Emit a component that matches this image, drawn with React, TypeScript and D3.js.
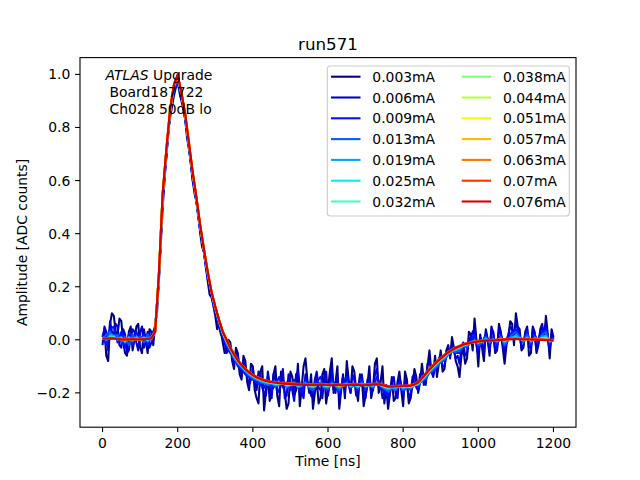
import * as d3 from "d3";

// sample times [ns]: the two noisiest traces are kept every 5 ns, the rest every 10 ns
const time = d3.range(0, 1201, 10);
const timeFine = d3.range(0, 1201, 5);

const currents = ["0.003mA", "0.006mA", "0.009mA", "0.013mA", "0.019mA", "0.025mA", "0.032mA",
  "0.038mA", "0.044mA", "0.051mA", "0.057mA", "0.063mA", "0.07mA", "0.076mA"];

const xTicks = [0, 200, 400, 600, 800, 1000, 1200];
const yTicks = [-0.2, 0, 0.2, 0.4, 0.6, 0.8, 1.0];

const s003 = [0.01, 0.04, -0.06, -0.08, 0.06, 0.1, 0.09, 0.03, 0.02, 0.08, 0.07, -0.01, -0.05, -0.06, 0.03, 0.05, -0.04, 0.0, 0.05, 0.06,
  -0.03, -0.05, 0.04, 0.0, -0.05, 0.04, 0.03, -0.02, 0.06, 0.1, 0.24, 0.36, 0.5, 0.6, 0.7, 0.79, 0.84, 0.88, 0.92, 0.95,
  0.98, 0.93, 0.9, 0.87, 0.83, 0.76, 0.72, 0.67, 0.6, 0.55, 0.52, 0.47, 0.4, 0.35, 0.33, 0.28, 0.22, 0.17, 0.16, 0.13,
  0.09, 0.04, 0.06, 0.03, -0.01, -0.05, -0.04, 0.0, -0.01, -0.08, -0.11, -0.03, -0.05, -0.13, -0.15, -0.06, -0.08, -0.16, -0.19, -0.09,
  -0.1, -0.19, -0.22, -0.24, -0.12, -0.1, -0.266, -0.19, -0.14, -0.23, -0.2, -0.13, -0.1, -0.21, -0.25, -0.12, -0.15, -0.2, -0.26, -0.24,
  -0.12, -0.14, -0.21, -0.19, -0.09, -0.25, -0.18, -0.1, -0.07, -0.15, -0.2, -0.13, -0.26, -0.2, -0.15, -0.24, -0.22, -0.13, -0.11, -0.24,
  -0.19, -0.12, -0.07, -0.2, -0.16, -0.1, -0.26, -0.19, -0.13, -0.22, -0.08, -0.15, -0.2, -0.1, -0.12, -0.19, -0.23, -0.13, -0.14, -0.25,
  -0.21, -0.17, -0.1, -0.22, -0.18, -0.09, -0.07, -0.2, -0.16, -0.1, -0.24, -0.18, -0.26, -0.2, -0.14, -0.23, -0.22, -0.16, -0.12, -0.19,
  -0.25, -0.12, -0.15, -0.24, -0.22, -0.17, -0.11, -0.14, -0.2, -0.16, -0.09, -0.15, -0.17, -0.1, -0.04, -0.12, -0.13, -0.06, -0.14, -0.09,
  -0.04, -0.12, -0.11, -0.04, -0.02, -0.07, 0.01, -0.03, -0.08, -0.1, -0.14, -0.06, -0.03, -0.09, -0.07, 0.03, 0.02, -0.04, 0.08, 0.0,
  -0.1, 0.02, -0.03, -0.08, 0.04, 0.0, -0.06, 0.05, 0.02, -0.05, -0.04, 0.06, 0.03, -0.03, -0.09, -0.02, 0.01, 0.07, 0.06, -0.02,
  0.1, 0.05, 0.04, -0.04, -0.03, 0.03, 0.05, -0.06, -0.05, 0.05, 0.03, -0.05, -0.02, 0.04, 0.06, 0.0, 0.09, 0.02, -0.07, 0.04,
  0.01];
const s006 = [-0.02, 0.05, 0.03, -0.04, 0.07, 0.03, 0.02, 0.06, 0.05, -0.02, -0.03, 0.04, 0.02, -0.05, -0.04, 0.01, 0.04, 0.03, -0.01, -0.04,
  0.03, 0.05, -0.03, -0.01, 0.03, -0.03, -0.01, 0.03, 0.05, 0.13, 0.22, 0.38, 0.53, 0.62, 0.69, 0.78, 0.85, 0.9, 0.93, 0.96,
  0.96, 0.95, 0.93, 0.88, 0.83, 0.78, 0.73, 0.66, 0.6, 0.57, 0.52, 0.46, 0.41, 0.37, 0.33, 0.27, 0.23, 0.21, 0.17, 0.13,
  0.1, 0.08, 0.05, 0.02, 0.01, -0.01, -0.05, -0.04, -0.02, -0.06, -0.09, -0.05, -0.06, -0.11, -0.13, -0.08, -0.1, -0.14, -0.17, -0.15,
  -0.11, -0.16, -0.19, -0.12, -0.13, -0.18, -0.2, -0.21, -0.12, -0.17, -0.22, -0.13, -0.15, -0.2, -0.19, -0.16, -0.11, -0.22, -0.21, -0.13,
  -0.16, -0.19, -0.23, -0.13, -0.12, -0.17, -0.2, -0.22, -0.13, -0.16, -0.18, -0.21, -0.22, -0.15, -0.12, -0.18, -0.19, -0.22, -0.14, -0.12,
  -0.21, -0.16, -0.11, -0.19, -0.2, -0.14, -0.22, -0.18, -0.14, -0.2, -0.12, -0.17, -0.2, -0.13, -0.15, -0.21, -0.19, -0.14, -0.13, -0.19,
  -0.22, -0.15, -0.14, -0.2, -0.19, -0.13, -0.11, -0.18, -0.17, -0.22, -0.21, -0.17, -0.23, -0.2, -0.16, -0.14, -0.2, -0.22, -0.14, -0.17,
  -0.21, -0.15, -0.17, -0.22, -0.2, -0.14, -0.13, -0.18, -0.19, -0.13, -0.12, -0.17, -0.16, -0.09, -0.08, -0.12, -0.14, -0.1, -0.11, -0.07,
  -0.06, -0.1, -0.1, -0.05, -0.03, -0.06, -0.02, -0.04, -0.07, -0.06, -0.09, -0.03, -0.01, -0.06, -0.05, 0.0, 0.01, 0.03, 0.04, -0.02,
  -0.06, 0.01, -0.01, -0.05, 0.03, 0.0, -0.04, 0.04, 0.03, -0.04, -0.03, 0.04, 0.02, -0.02, -0.05, 0.0, 0.02, 0.05, 0.04, 0.01,
  0.07, 0.04, 0.02, -0.03, -0.02, 0.02, 0.04, -0.03, -0.03, 0.04, 0.02, -0.04, -0.01, 0.03, 0.05, 0.03, 0.06, 0.0, -0.04, 0.02,
  0.0];
const s009 = [0.02, -0.02, 0.04, 0.05, -0.01, 0.03, -0.03, 0.02, -0.02, 0.03,
  0.0, 0.02, -0.02, 0.02, 0.04, 0.23, 0.54, 0.7, 0.86, 0.94,
  0.97, 0.92, 0.84, 0.72, 0.62, 0.52, 0.42, 0.33, 0.24, 0.17,
  0.11, 0.06, 0.02, -0.02, -0.05, -0.06, -0.1, -0.11, -0.13, -0.14,
  -0.15, -0.16, -0.17, -0.18, -0.15, -0.19, -0.17, -0.14, -0.18, -0.16,
  -0.19, -0.15, -0.18, -0.2, -0.15, -0.17, -0.2, -0.16, -0.14, -0.18,
  -0.19, -0.15, -0.17, -0.2, -0.16, -0.14, -0.18, -0.17, -0.19, -0.15,
  -0.19, -0.16, -0.18, -0.14, -0.17, -0.2, -0.21, -0.17, -0.19, -0.16,
  -0.2, -0.17, -0.19, -0.16, -0.18, -0.14, -0.15, -0.12, -0.12, -0.1,
  -0.08, -0.08, -0.05, -0.03, -0.05, -0.05, -0.02, -0.03, 0.0, 0.02,
  -0.03, -0.01, 0.02, -0.02, 0.01, -0.02, 0.02, -0.03, 0.01, 0.03,
  0.04, 0.01, -0.01, 0.03, -0.02, 0.02, -0.01, 0.03, 0.04, -0.02,
  0.01];
const s013 = [0.0, 0.02, 0.03, 0.01, 0.02, -0.01, 0.01, -0.02, 0.02, 0.0,
  0.01, -0.01, 0.02, 0.0, 0.035, 0.24, 0.54, 0.71, 0.86, 0.95,
  0.98, 0.92, 0.84, 0.73, 0.62, 0.525, 0.42, 0.335, 0.245, 0.175,
  0.115, 0.065, 0.02, -0.015, -0.04, -0.07, -0.09, -0.105, -0.12, -0.135,
  -0.145, -0.15, -0.16, -0.165, -0.17, -0.165, -0.175, -0.17, -0.16, -0.18,
  -0.17, -0.16, -0.18, -0.175, -0.16, -0.18, -0.19, -0.17, -0.16, -0.18,
  -0.185, -0.16, -0.175, -0.19, -0.17, -0.16, -0.18, -0.17, -0.185, -0.16,
  -0.18, -0.17, -0.18, -0.16, -0.175, -0.185, -0.195, -0.18, -0.19, -0.17,
  -0.19, -0.18, -0.185, -0.17, -0.17, -0.155, -0.145, -0.125, -0.115, -0.1,
  -0.085, -0.075, -0.055, -0.045, -0.045, -0.04, -0.025, -0.025, -0.01, 0.0,
  -0.02, -0.01, 0.01, -0.01, 0.0, -0.01, 0.01, -0.02, 0.0, 0.02,
  0.03, 0.01, -0.01, 0.02, -0.01, 0.01, 0.0, 0.02, 0.03, -0.01,
  0.0];
const s019 = [0.01, 0.0, 0.02, 0.015, 0.0, 0.01, -0.01, 0.01, -0.005, 0.01,
  0.0, 0.01, -0.005, 0.01, 0.03, 0.245, 0.545, 0.715, 0.865, 0.955,
  0.985, 0.925, 0.845, 0.735, 0.625, 0.53, 0.425, 0.34, 0.25, 0.18,
  0.12, 0.07, 0.025, -0.01, -0.035, -0.065, -0.085, -0.1, -0.117, -0.13,
  -0.14, -0.148, -0.155, -0.16, -0.165, -0.163, -0.17, -0.168, -0.162, -0.175,
  -0.17, -0.165, -0.176, -0.172, -0.164, -0.175, -0.18, -0.17, -0.165, -0.176,
  -0.178, -0.166, -0.172, -0.18, -0.17, -0.166, -0.176, -0.17, -0.178, -0.165,
  -0.175, -0.17, -0.174, -0.164, -0.172, -0.18, -0.186, -0.178, -0.182, -0.174,
  -0.182, -0.178, -0.18, -0.172, -0.168, -0.152, -0.138, -0.12, -0.106, -0.092,
  -0.078, -0.068, -0.052, -0.042, -0.038, -0.032, -0.022, -0.02, -0.01, -0.004,
  -0.012, -0.006, 0.005, -0.006, 0.002, -0.005, 0.006, -0.01, 0.002, 0.01,
  0.016, 0.006, -0.004, 0.01, -0.006, 0.007, 0.0, 0.012, 0.015, -0.006,
  0.0];
const s025 = [0.008, 0.002, 0.012, 0.01, 0.003, 0.006, -0.004, 0.006, 0.0, 0.006,
  0.001, 0.007, 0.0, 0.008, 0.03, 0.248, 0.548, 0.718, 0.868, 0.958,
  0.99, 0.928, 0.848, 0.738, 0.628, 0.532, 0.428, 0.34, 0.253, 0.18,
  0.122, 0.072, 0.028, -0.006, -0.033, -0.06, -0.081, -0.098, -0.113, -0.127,
  -0.137, -0.145, -0.151, -0.156, -0.161, -0.162, -0.167, -0.166, -0.164, -0.171,
  -0.169, -0.166, -0.173, -0.17, -0.166, -0.172, -0.176, -0.17, -0.166, -0.173,
  -0.175, -0.167, -0.171, -0.176, -0.17, -0.167, -0.173, -0.169, -0.175, -0.166,
  -0.173, -0.17, -0.172, -0.165, -0.17, -0.177, -0.182, -0.178, -0.179, -0.175,
  -0.179, -0.177, -0.177, -0.171, -0.165, -0.15, -0.134, -0.117, -0.102, -0.088,
  -0.075, -0.064, -0.05, -0.041, -0.034, -0.029, -0.021, -0.018, -0.011, -0.006,
  -0.009, -0.005, 0.001, -0.004, 0.0, -0.003, 0.003, -0.005, 0.002, 0.006,
  0.01, 0.005, -0.001, 0.006, -0.003, 0.004, 0.0, 0.007, 0.009, -0.004,
  0.0];
const s032 = [0.007, 0.004, 0.009, 0.008, 0.004, 0.004, -0.001, 0.004, 0.002, 0.005,
  0.002, 0.005, 0.003, 0.007, 0.03, 0.25, 0.55, 0.719, 0.869, 0.959,
  0.992, 0.929, 0.849, 0.739, 0.629, 0.533, 0.429, 0.34, 0.254, 0.18,
  0.123, 0.073, 0.029, -0.003, -0.032, -0.058, -0.079, -0.097, -0.112, -0.125,
  -0.135, -0.143, -0.149, -0.154, -0.158, -0.161, -0.165, -0.165, -0.164, -0.168,
  -0.168, -0.166, -0.171, -0.169, -0.167, -0.171, -0.173, -0.17, -0.167, -0.171,
  -0.173, -0.168, -0.17, -0.173, -0.171, -0.168, -0.171, -0.169, -0.172, -0.167,
  -0.172, -0.17, -0.17, -0.166, -0.169, -0.175, -0.179, -0.177, -0.177, -0.175,
  -0.177, -0.176, -0.175, -0.17, -0.163, -0.148, -0.131, -0.115, -0.1, -0.086,
  -0.073, -0.061, -0.049, -0.04, -0.032, -0.027, -0.02, -0.016, -0.012, -0.007,
  -0.007, -0.005, -0.001, -0.003, -0.001, -0.002, 0.002, -0.002, 0.002, 0.004,
  0.007, 0.004, 0.001, 0.004, -0.001, 0.003, 0.0, 0.004, 0.006, -0.002,
  -0.001];
const s038 = [0.006, 0.004, 0.008, 0.007, 0.004, 0.003, 0.0, 0.003, 0.003, 0.004,
  0.002, 0.004, 0.003, 0.006, 0.03, 0.25, 0.55, 0.72, 0.87, 0.96,
  0.993, 0.93, 0.85, 0.74, 0.63, 0.534, 0.43, 0.34, 0.255, 0.18,
  0.124, 0.074, 0.03, -0.002, -0.031, -0.057, -0.078, -0.096, -0.111, -0.124,
  -0.134, -0.142, -0.148, -0.153, -0.157, -0.16, -0.163, -0.164, -0.164, -0.167,
  -0.167, -0.166, -0.17, -0.169, -0.168, -0.17, -0.172, -0.17, -0.168, -0.17,
  -0.172, -0.169, -0.17, -0.172, -0.171, -0.169, -0.17, -0.169, -0.171, -0.168,
  -0.171, -0.17, -0.169, -0.167, -0.169, -0.174, -0.178, -0.177, -0.176, -0.175,
  -0.176, -0.175, -0.174, -0.169, -0.162, -0.147, -0.13, -0.114, -0.099, -0.085,
  -0.072, -0.06, -0.048, -0.039, -0.031, -0.026, -0.019, -0.015, -0.012, -0.008,
  -0.007, -0.005, -0.002, -0.003, -0.001, -0.002, 0.001, -0.001, 0.002, 0.003,
  0.006, 0.004, 0.002, 0.003, 0.0, 0.002, 0.0, 0.003, 0.004, -0.001,
  -0.001];
const s044 = [0.006, 0.005, 0.007, 0.006, 0.004, 0.003, 0.001, 0.003, 0.002, 0.003,
  0.002, 0.004, 0.004, 0.006, 0.03, 0.25, 0.55, 0.72, 0.87, 0.96,
  0.994, 0.93, 0.85, 0.74, 0.63, 0.535, 0.43, 0.34, 0.255, 0.18,
  0.125, 0.075, 0.03, -0.001, -0.031, -0.056, -0.078, -0.096, -0.111, -0.124,
  -0.134, -0.142, -0.148, -0.153, -0.157, -0.16, -0.162, -0.164, -0.164, -0.166,
  -0.167, -0.167, -0.169, -0.169, -0.169, -0.17, -0.171, -0.17, -0.168, -0.17,
  -0.171, -0.17, -0.17, -0.171, -0.171, -0.17, -0.17, -0.169, -0.17, -0.169,
  -0.171, -0.17, -0.169, -0.167, -0.169, -0.173, -0.177, -0.177, -0.176, -0.175,
  -0.175, -0.175, -0.173, -0.169, -0.161, -0.146, -0.129, -0.113, -0.098, -0.084,
  -0.071, -0.059, -0.048, -0.039, -0.031, -0.025, -0.019, -0.015, -0.011, -0.008,
  -0.006, -0.005, -0.003, -0.002, -0.002, -0.001, 0.001, 0.0, 0.002, 0.003,
  0.005, 0.004, 0.002, 0.002, 0.001, 0.001, 0.0, 0.002, 0.002, -0.001,
  -0.001];
const s051 = [0.005, 0.005, 0.007, 0.005, 0.004, 0.002, 0.001, 0.002, 0.003, 0.003,
  0.002, 0.003, 0.004, 0.006, 0.03, 0.25, 0.55, 0.72, 0.87, 0.96,
  0.995, 0.93, 0.85, 0.74, 0.63, 0.535, 0.43, 0.34, 0.255, 0.18,
  0.125, 0.075, 0.03, 0.0, -0.03, -0.056, -0.077, -0.095, -0.11, -0.123,
  -0.133, -0.141, -0.147, -0.152, -0.156, -0.159, -0.162, -0.163, -0.164, -0.166,
  -0.166, -0.167, -0.168, -0.168, -0.169, -0.17, -0.17, -0.17, -0.168, -0.169,
  -0.17, -0.17, -0.169, -0.171, -0.171, -0.17, -0.169, -0.168, -0.17, -0.17,
  -0.17, -0.169, -0.168, -0.167, -0.168, -0.173, -0.177, -0.176, -0.175, -0.175,
  -0.175, -0.174, -0.173, -0.168, -0.16, -0.146, -0.129, -0.112, -0.097, -0.083,
  -0.07, -0.058, -0.047, -0.038, -0.03, -0.024, -0.018, -0.014, -0.011, -0.008,
  -0.006, -0.004, -0.003, -0.002, -0.002, -0.001, 0.0, 0.001, 0.002, 0.003,
  0.005, 0.003, 0.002, 0.002, 0.001, 0.001, 0.0, 0.001, 0.001, -0.001,
  -0.002];
const s057 = [0.005, 0.004, 0.006, 0.006, 0.004, 0.002, 0.001, 0.002, 0.002, 0.002,
  0.002, 0.003, 0.004, 0.006, 0.03, 0.25, 0.55, 0.72, 0.87, 0.96,
  0.996, 0.93, 0.85, 0.74, 0.63, 0.535, 0.43, 0.34, 0.255, 0.18,
  0.125, 0.075, 0.03, 0.0, -0.03, -0.055, -0.077, -0.095, -0.11, -0.123,
  -0.133, -0.141, -0.147, -0.152, -0.156, -0.159, -0.161, -0.163, -0.165, -0.165,
  -0.166, -0.167, -0.168, -0.169, -0.169, -0.169, -0.17, -0.17, -0.168, -0.169,
  -0.17, -0.17, -0.17, -0.17, -0.171, -0.17, -0.169, -0.168, -0.169, -0.17,
  -0.17, -0.169, -0.168, -0.167, -0.168, -0.172, -0.176, -0.176, -0.175, -0.175,
  -0.174, -0.174, -0.172, -0.168, -0.16, -0.145, -0.128, -0.112, -0.097, -0.083,
  -0.07, -0.058, -0.047, -0.038, -0.03, -0.024, -0.018, -0.014, -0.011, -0.008,
  -0.006, -0.004, -0.003, -0.002, -0.002, -0.001, 0.0, 0.001, 0.002, 0.003,
  0.004, 0.004, 0.002, 0.002, 0.001, 0.001, 0.0, 0.001, 0.0, -0.001,
  -0.002];
const s063 = [0.005, 0.005, 0.006, 0.005, 0.003, 0.002, 0.001, 0.002, 0.003, 0.002,
  0.002, 0.003, 0.003, 0.006, 0.03, 0.25, 0.55, 0.72, 0.87, 0.96,
  0.997, 0.93, 0.85, 0.74, 0.63, 0.535, 0.43, 0.34, 0.255, 0.18,
  0.125, 0.075, 0.03, 0.0, -0.03, -0.055, -0.077, -0.095, -0.11, -0.123,
  -0.133, -0.141, -0.147, -0.152, -0.156, -0.159, -0.161, -0.163, -0.164, -0.165,
  -0.166, -0.167, -0.168, -0.168, -0.169, -0.169, -0.17, -0.169, -0.168, -0.169,
  -0.17, -0.17, -0.169, -0.17, -0.171, -0.17, -0.169, -0.168, -0.169, -0.17,
  -0.17, -0.169, -0.168, -0.167, -0.168, -0.172, -0.176, -0.176, -0.175, -0.175,
  -0.174, -0.174, -0.172, -0.168, -0.16, -0.145, -0.128, -0.112, -0.097, -0.083,
  -0.07, -0.058, -0.047, -0.038, -0.03, -0.024, -0.018, -0.014, -0.011, -0.008,
  -0.006, -0.004, -0.003, -0.002, -0.002, -0.001, 0.0, 0.001, 0.002, 0.003,
  0.004, 0.003, 0.002, 0.002, 0.001, 0.001, 0.0, 0.0, -0.001, -0.001,
  -0.002];
const s070 = [0.007, 0.007, 0.008, 0.007, 0.006, 0.004, 0.003, 0.004, 0.005, 0.004,
  0.004, 0.005, 0.006, 0.008, 0.03, 0.25, 0.55, 0.72, 0.87, 0.96,
  0.998, 0.93, 0.85, 0.74, 0.63, 0.535, 0.43, 0.34, 0.255, 0.18,
  0.125, 0.075, 0.031, 0.002, -0.028, -0.053, -0.075, -0.093, -0.108, -0.121,
  -0.131, -0.139, -0.145, -0.15, -0.154, -0.157, -0.159, -0.161, -0.162, -0.163,
  -0.164, -0.165, -0.166, -0.166, -0.167, -0.167, -0.168, -0.167, -0.166, -0.167,
  -0.168, -0.168, -0.167, -0.168, -0.169, -0.168, -0.167, -0.166, -0.167, -0.168,
  -0.168, -0.167, -0.166, -0.165, -0.166, -0.17, -0.174, -0.174, -0.173, -0.173,
  -0.172, -0.172, -0.17, -0.166, -0.158, -0.143, -0.126, -0.11, -0.095, -0.081,
  -0.068, -0.056, -0.045, -0.036, -0.028, -0.022, -0.016, -0.012, -0.009, -0.006,
  -0.004, -0.002, -0.001, 0.0, 0.0, 0.001, 0.002, 0.003, 0.004, 0.005,
  0.006, 0.005, 0.004, 0.004, 0.003, 0.003, 0.002, 0.002, 0.001, 0.001,
  0.0];
const s076 = [0.004, 0.004, 0.005, 0.004, 0.003, 0.001, 0.0, 0.001, 0.002, 0.001,
  0.001, 0.002, 0.003, 0.005, 0.03, 0.25, 0.55, 0.72, 0.87, 0.96,
  1.0, 0.93, 0.85, 0.74, 0.63, 0.535, 0.43, 0.34, 0.255, 0.18,
  0.125, 0.075, 0.03, -0.001, -0.031, -0.056, -0.078, -0.096, -0.111, -0.124,
  -0.134, -0.142, -0.148, -0.153, -0.157, -0.16, -0.162, -0.164, -0.165, -0.166,
  -0.167, -0.168, -0.169, -0.169, -0.17, -0.17, -0.171, -0.17, -0.169, -0.17,
  -0.171, -0.171, -0.17, -0.171, -0.172, -0.171, -0.17, -0.169, -0.17, -0.171,
  -0.171, -0.17, -0.169, -0.168, -0.169, -0.173, -0.177, -0.177, -0.176, -0.176,
  -0.175, -0.175, -0.173, -0.169, -0.161, -0.146, -0.129, -0.113, -0.098, -0.084,
  -0.071, -0.059, -0.048, -0.039, -0.031, -0.025, -0.019, -0.015, -0.012, -0.009,
  -0.007, -0.005, -0.004, -0.003, -0.003, -0.002, -0.001, 0.0, 0.001, 0.002,
  0.003, 0.002, 0.001, 0.001, 0.0, 0.0, -0.001, -0.001, -0.002, -0.002,
  -0.003];

const series = [s003, s006, s009, s013, s019, s025, s032, s038, s044, s051, s057, s063, s070, s076];
const seriesTimes = [timeFine, timeFine, time, time, time, time, time, time, time, time, time, time, time, time];

// matplotlib "jet" colormap
const jetR = d3.scaleLinear([0, 0.35, 0.66, 0.89, 1], [0, 0, 1, 1, 0.5]).clamp(true);
const jetG = d3.scaleLinear([0, 0.125, 0.375, 0.64, 0.91, 1], [0, 0, 1, 1, 0, 0]).clamp(true);
const jetB = d3.scaleLinear([0, 0.11, 0.34, 0.65, 1], [0.5, 1, 1, 0, 0]).clamp(true);
const jet = (v: number) => d3.rgb(jetR(v) * 255, jetG(v) * 255, jetB(v) * 255).formatHex();

const W = 640, H = 480;
const left = 80, right = 576, top = 57.6, bottom = 427.2;
const font = "DejaVu Sans, sans-serif";

export default function App() {
  const x = d3.scaleLinear().domain([-60, 1260]).range([left, right]);
  const all = series.flat();
  const [lo, hi] = d3.extent(all) as [number, number];
  const pad = (hi - lo) * 0.05;
  const y = d3.scaleLinear().domain([lo - pad, hi + pad]).range([bottom, top]);

  const fmtY = (v: number) => d3.format(".1f")(v).replace("-", "\u2212");

  const legX = 327.3, legY = 66, legW = 242, legH = 150;
  const rowH = 20.8;

  return (
    <svg width={W} height={H} style={{ display: "block", margin: -8 }} fontFamily={font}>
      <rect width={W} height={H} fill="#fff" />

      {series.map((s, k) => {
        const ts = seriesTimes[k];
        const line = d3.line<number>().x((_, i) => x(ts[i])).y(d => y(d));
        return (
          <path key={k} d={line(s) ?? ""} fill="none" stroke={jet(k / 14)}
            strokeWidth={2.08} strokeLinejoin="round" />
        );
      })}

      {/* frame */}
      <rect x={left} y={top} width={right - left} height={bottom - top}
        fill="none" stroke="#000" strokeWidth={1.1} />

      {/* x axis */}
      {xTicks.map(t => (
        <g key={t} transform={`translate(${x(t)},${bottom})`}>
          <line y2={4.9} stroke="#000" strokeWidth={1.1} />
          <text y={20.5} textAnchor="middle" fontSize={13.9}>{t}</text>
        </g>
      ))}
      {/* y axis */}
      {yTicks.map(t => (
        <g key={t} transform={`translate(${left},${y(t)})`}>
          <line x2={-4.9} stroke="#000" strokeWidth={1.1} />
          <text x={-9.7} y={5} textAnchor="end" fontSize={13.9}>{fmtY(t)}</text>
        </g>
      ))}

      <text x={(left + right) / 2} y={466} textAnchor="middle" fontSize={13.9}>Time [ns]</text>
      <text transform={`translate(27,${(top + bottom) / 2}) rotate(-90)`} textAnchor="middle"
        fontSize={13.9}>Amplitude [ADC counts]</text>
      <text x={(left + right) / 2} y={49.5} textAnchor="middle" fontSize={16.7}>run571</text>

      {/* annotation */}
      <text x={105.5} y={80} fontSize={13.9}>
        <tspan fontStyle="italic">ATLAS</tspan> Upgrade
      </text>
      <text x={109.5} y={97} fontSize={13.9}>Board187722</text>
      <text x={109.5} y={114} fontSize={13.9}>Ch028 50dB lo</text>

      {/* legend */}
      <rect x={legX} y={legY} width={legW} height={legH} rx={3} fill="#fff" fillOpacity={0.8}
        stroke="#cccccc" strokeWidth={1.1} />
      {currents.map((c, k) => {
        const col = Math.floor(k / 7), row = k % 7;
        const lx = col === 0 ? 331 : 461.7;
        const cy = 76.7 + row * rowH;
        return (
          <g key={c}>
            <line x1={lx} x2={lx + 29.5} y1={cy} y2={cy} stroke={jet(k / 14)} strokeWidth={2.08} />
            <text x={lx + 41.3} y={cy + 5} fontSize={13.9}>{c}</text>
          </g>
        );
      })}
    </svg>
  );
}
